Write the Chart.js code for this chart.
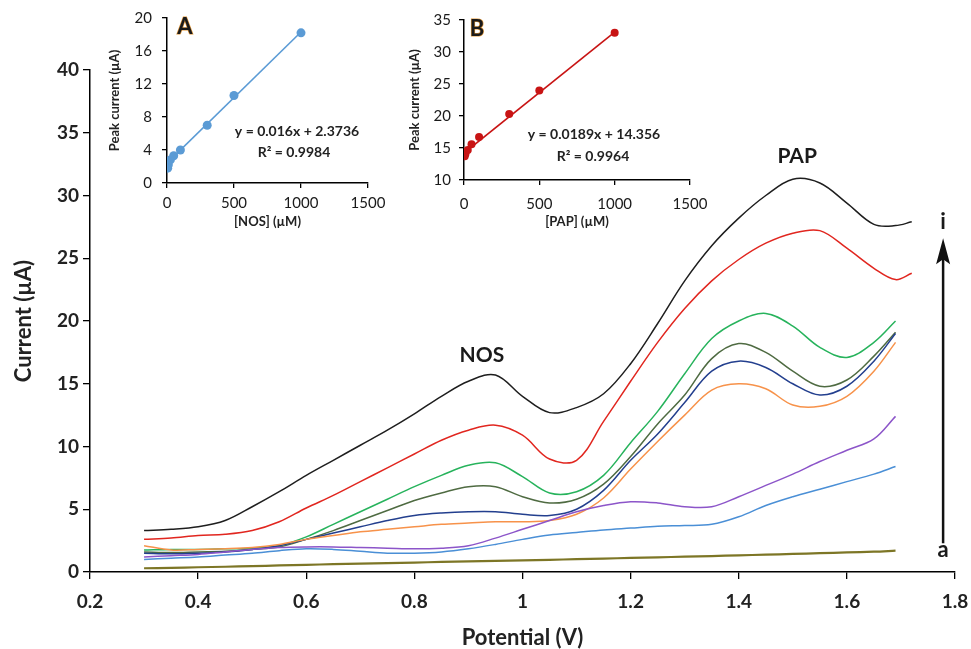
<!DOCTYPE html>
<html><head><meta charset="utf-8">
<script src="https://cdn.jsdelivr.net/npm/chart.js@4.4.1/dist/chart.umd.min.js"></script>
<style>
html,body{margin:0;padding:0;background:#fff;}
#wrap{position:relative;width:971px;height:649px;overflow:hidden;background:#fff;}
canvas{position:absolute;}
#main{left:0;top:0;}
#insetA{left:95px;top:0;}
#insetB{left:392px;top:0;}
</style></head><body>
<div id="wrap">
<canvas id="main" width="971" height="649"></canvas>
<canvas id="insetA" width="295" height="240"></canvas>
<canvas id="insetB" width="318" height="240"></canvas>
</div>
<script>
// ---------- main voltammogram data ----------
const potential = [0.30,0.35,0.40,0.45,0.50,0.55,0.60,0.65,0.70,0.75,0.80,0.85,0.90,0.95,1.00,1.05,1.10,1.15,1.20,1.25,1.30,1.35,1.40,1.45,1.50,1.55,1.60,1.65,1.69];
const potentialLong = [0.30,0.35,0.40,0.45,0.50,0.55,0.60,0.65,0.70,0.75,0.80,0.85,0.90,0.95,1.00,1.05,1.10,1.15,1.20,1.25,1.30,1.35,1.40,1.45,1.50,1.55,1.60,1.65,1.69,1.72];

const curveA = [0.30,0.33,0.38,0.42,0.47,0.52,0.57,0.62,0.66,0.71,0.75,0.80,0.84,0.88,0.92,0.97,1.02,1.07,1.12,1.17,1.22,1.27,1.33,1.38,1.44,1.50,1.56,1.62,1.70];
const curveB = [1.0,1.1,1.2,1.35,1.5,1.7,1.85,1.8,1.65,1.5,1.5,1.6,1.85,2.2,2.6,2.95,3.15,3.35,3.5,3.65,3.7,3.8,4.4,5.3,6.0,6.6,7.2,7.8,8.4];
const curveC = [1.2,1.3,1.4,1.6,1.8,1.95,2.0,2.0,1.95,1.9,1.85,1.9,2.1,2.7,3.4,4.1,4.8,5.3,5.6,5.5,5.2,5.2,6.0,6.9,7.8,8.8,9.7,10.6,12.4];
const curveD = [2.1,1.75,1.8,1.85,1.95,2.2,2.6,2.9,3.2,3.4,3.6,3.8,3.9,4.0,4.0,4.1,4.6,5.9,8.2,10.4,12.5,14.5,15.0,14.6,13.3,13.2,14.0,16.0,18.3];
const curveE = [1.5,1.45,1.5,1.6,1.8,2.1,2.6,3.1,3.6,4.1,4.5,4.7,4.8,4.8,4.6,4.5,5.0,6.5,8.9,11.0,13.5,16.0,16.8,16.3,15.0,14.1,14.8,16.8,19.0];
const curveF = [1.6,1.55,1.6,1.65,1.8,2.0,2.6,3.3,4.1,4.9,5.7,6.3,6.8,6.8,6.0,5.5,5.8,7.0,9.2,11.8,14.1,17.0,18.2,17.5,16.0,14.8,15.3,17.2,19.1];
const curveG = [1.75,1.8,1.8,1.85,1.9,2.1,2.8,3.8,4.8,5.8,6.8,7.7,8.5,8.7,7.6,6.3,6.4,7.7,10.3,12.8,15.8,18.6,20.0,20.6,19.6,17.9,17.1,18.3,20.0];
const curveH = [2.6,2.7,2.9,3.0,3.3,4.0,5.1,6.1,7.2,8.3,9.4,10.5,11.3,11.7,10.9,9.0,8.9,12.0,15.2,18.3,21.0,23.2,24.9,26.2,27.0,27.2,25.8,24.2,23.3,23.8];
const curveI = [3.3,3.4,3.6,4.1,5.2,6.4,7.7,8.9,10.1,11.3,12.6,14.0,15.2,15.7,14.0,12.7,13.1,14.2,16.6,19.8,23.2,26.0,28.2,30.0,31.3,31.0,29.4,27.7,27.6,27.9];

const xTicks = [0.2,0.4,0.6,0.8,1.0,1.2,1.4,1.6,1.8];
const xTickLabels = ['0.2','0.4','0.6','0.8','1','1.2','1.4','1.6','1.8'];
const yTicks = [0,5,10,15,20,25,30,35,40];
const yTickLabels = ['0','5','10','15','20','25','30','35','40'];

// ---------- inset A (NOS calibration) ----------
const nosConc = [5,10,25,50,100,300,500,1000];
const nosPeak = [1.8,2.2,2.8,3.3,4.0,7.0,10.6,18.2];
const nosTrendX = [0,1000];
const nosTrendY = [2.4,18.3];
const insetXTicks = [0,500,1000,1500];
const insetXTickLabels = ['0','500','1000','1500'];
const insetAYTicks = [0,4,8,12,16,20];
const insetAYTickLabels = ['0','4','8','12','16','20'];

// ---------- inset B (PAP calibration) ----------
const papConc = [5,10,25,50,100,300,500,1000];
const papPeak = [13.7,14.1,14.7,15.6,16.7,20.3,24.0,33.0];
const papTrendX = [0,1000];
const papTrendY = [14.2,33.1];
const insetBYTicks = [10,15,20,25,30,35];
const insetBYTickLabels = ['10','15','20','25','30','35'];

const FONT = 'Lato, "Open Sans", sans-serif';
const pts = (xs, ys) => ys.map((y, i) => ({x: xs[i], y}));

const curves = [
  {data: curveA, x: potential, color: '#7d7626', w: 2.2},
  {data: curveB, x: potential, color: '#4a8fd6', w: 1.5},
  {data: curveC, x: potential, color: '#8c55c9', w: 1.5},
  {data: curveD, x: potential, color: '#f7924a', w: 1.5},
  {data: curveE, x: potential, color: '#233f8e', w: 1.5},
  {data: curveF, x: potential, color: '#4f6b42', w: 1.5},
  {data: curveG, x: potential, color: '#27b35c', w: 1.5},
  {data: curveH, x: potentialLong, color: '#e1261f', w: 1.5},
  {data: curveI, x: potentialLong, color: '#1e1e1e', w: 1.5}
];

const mainAnnot = {
  id: 'mainAnnot',
  afterDatasetsDraw(chart) {
    const {ctx, scales: {x, y}} = chart;
    ctx.save();
    ctx.fillStyle = '#1a1a1a';
    ctx.textAlign = 'center';
    ctx.textBaseline = 'middle';
    ctx.font = 'bold 21px ' + FONT;
    ctx.fillText('NOS', x.getPixelForValue(0.925), y.getPixelForValue(17.3));
    ctx.fillText('PAP', x.getPixelForValue(1.508), y.getPixelForValue(33.1));
    ctx.font = 'bold 22px ' + FONT;
    const ax = x.getPixelForValue(1.778);
    ctx.fillText('i', ax, y.getPixelForValue(27.9));
    ctx.fillText('a', ax, y.getPixelForValue(1.75));
    // arrow a -> i
    const yb = y.getPixelForValue(2.3), yt = y.getPixelForValue(26.6);
    ctx.strokeStyle = '#111';
    ctx.lineWidth = 2.5;
    ctx.beginPath(); ctx.moveTo(ax, yb); ctx.lineTo(ax, yt + 20); ctx.stroke();
    ctx.beginPath();
    ctx.moveTo(ax, yt); ctx.lineTo(ax - 7, yt + 26); ctx.lineTo(ax, yt + 21); ctx.lineTo(ax + 7, yt + 26); ctx.closePath();
    ctx.fillStyle = '#111'; ctx.fill();
    ctx.restore();
  }
};

const axisCommon = (tickLen) => ({
  grid: {display: true, drawOnChartArea: false, drawTicks: true, tickLength: tickLen, color: '#000', lineWidth: 1.3},
  border: {display: true, color: '#000', width: 1.5}
});

new Chart(document.getElementById('main'), {
  type: 'scatter',
  data: {
    datasets: curves.map(c => ({
      data: pts(c.x, c.data), showLine: true, borderColor: c.color, backgroundColor: c.color,
      borderWidth: c.w, pointRadius: 0, tension: 0.35, fill: false
    }))
  },
  options: {
    responsive: false, animation: false, devicePixelRatio: 1,
    layout: {padding: {top: 70, right: 16, left: 0, bottom: 0}},
    plugins: {legend: {display: false}, tooltip: {enabled: false}},
    scales: {
      x: Object.assign(axisCommon(7), {
        type: 'linear', min: 0.2, max: 1.8,
        afterFit: s => { s.height = 77; s.paddingLeft = 0; s.paddingRight = 0; },
        afterBuildTicks: s => { s.ticks = xTicks.map(v => ({value: v})); },
        ticks: {callback: (v, i) => xTickLabels[i], font: {family: FONT, size: 19, weight: 'bold'}, color: '#222', padding: 11, maxRotation: 0, autoSkip: false},
        title: {display: true, text: 'Potential (V)', font: {family: FONT, size: 22, weight: 'bold', lineHeight: 1}, color: '#222', padding: {top: 0, bottom: 0}}
      }),
      y: Object.assign(axisCommon(7), {
        type: 'linear', min: 0, max: 40,
        afterFit: s => { s.width = 90; s.paddingTop = 0; s.paddingBottom = 0; },
        afterBuildTicks: s => { s.ticks = yTicks.map(v => ({value: v})); },
        ticks: {callback: (v, i) => yTickLabels[i], font: {family: FONT, size: 19, weight: 'bold'}, color: '#222', padding: 4, autoSkip: false},
        title: {display: true, text: 'Current (µA)', font: {family: FONT, size: 22, weight: 'bold', lineHeight: 1}, color: '#222', padding: {top: 13, bottom: 0}}
      })
    }
  },
  plugins: [mainAnnot]
});

function insetText(letter, lx, ly, eq, ex, ey, r2, rx, ry) {
  return {
    id: 'insetText' + letter,
    afterDatasetsDraw(chart) {
      const ctx = chart.ctx;
      ctx.save();
      ctx.textAlign = 'center'; ctx.textBaseline = 'middle';
      ctx.font = 'bold 22px ' + FONT;
      ctx.lineWidth = 1.2; ctx.strokeStyle = '#e39a3c';
      ctx.strokeText(letter, lx, ly);
      ctx.fillStyle = '#1a1a1a';
      ctx.fillText(letter, lx, ly);
      ctx.font = 'bold 14px ' + FONT;
      ctx.fillStyle = '#222';
      ctx.fillText(eq, ex, ey);
      ctx.fillText(r2, rx, ry);
      ctx.restore();
    }
  };
}

function makeInset(id, opts) {
  new Chart(document.getElementById(id), {
    type: 'scatter',
    data: {
      datasets: [
        {data: pts(opts.tx, opts.ty), showLine: true, borderColor: opts.color, borderWidth: 1.6, pointRadius: 0, tension: 0},
        {data: pts(opts.px, opts.py), showLine: false, backgroundColor: opts.color, borderColor: opts.color, pointRadius: opts.r, pointBorderWidth: 0}
      ]
    },
    options: {
      responsive: false, animation: false, devicePixelRatio: 1,
      layout: {padding: {top: opts.padTop, right: opts.padRight, left: 0, bottom: 0}},
      plugins: {legend: {display: false}, tooltip: {enabled: false}},
      scales: {
        x: Object.assign(axisCommon(5), {
          type: 'linear', min: 0, max: 1500,
          afterFit: s => { s.height = opts.xH; s.paddingLeft = 0; s.paddingRight = 0; },
          afterBuildTicks: s => { s.ticks = insetXTicks.map(v => ({value: v})); },
          ticks: {callback: (v, i) => insetXTickLabels[i], font: {family: FONT, size: 15}, color: '#1a1a1a', padding: opts.xPad, maxRotation: 0, autoSkip: false},
          title: {display: true, text: opts.xTitle, font: {family: FONT, size: 13, weight: 'bold', lineHeight: 1}, color: '#222', padding: {top: 0, bottom: 11.5}}
        }),
        y: Object.assign(axisCommon(5), {
          type: 'linear', min: opts.ymin, max: opts.ymax,
          afterFit: s => { s.width = 72; s.paddingTop = 0; s.paddingBottom = 0; },
          afterBuildTicks: s => { s.ticks = opts.yt.map(v => ({value: v})); },
          ticks: {callback: (v, i) => opts.ytl[i], font: {family: FONT, size: 15}, color: '#1a1a1a', padding: opts.yPad, autoSkip: false},
          title: {display: true, text: 'Peak current (µA)', font: {family: FONT, size: 13, weight: 'bold', lineHeight: 1}, color: '#222', padding: {top: opts.yTitlePad, bottom: 0}}
        })
      }
    },
    plugins: [opts.text]
  });
}

makeInset('insetA', {
  color: '#5b9bd5', r: 4.5, px: nosConc, py: nosPeak, tx: nosTrendX, ty: nosTrendY,
  padTop: 18, padRight: 22, xH: 57, xPad: 6, yPad: 10, yTitlePad: 13.5,
  ymin: 0, ymax: 20, yt: insetAYTicks, ytl: insetAYTickLabels, xTitle: '[NOS] (µM)',
  text: insetText('A', 90, 27, 'y = 0.016x + 2.3736', 202, 131, 'R² = 0.9984', 199, 152)
});
makeInset('insetB', {
  color: '#c81414', r: 4, px: papConc, py: papPeak, tx: papTrendX, ty: papTrendY,
  padTop: 20, padRight: 20, xH: 60, xPad: 10, yPad: 8, yTitlePad: 16.5,
  ymin: 10, ymax: 35, yt: insetBYTicks, ytl: insetBYTickLabels, xTitle: '[PAP] (µM)',
  text: insetText('B', 85, 29, 'y = 0.0189x + 14.356', 202, 134, 'R² = 0.9964', 201, 156)
});
</script>
</body></html>
